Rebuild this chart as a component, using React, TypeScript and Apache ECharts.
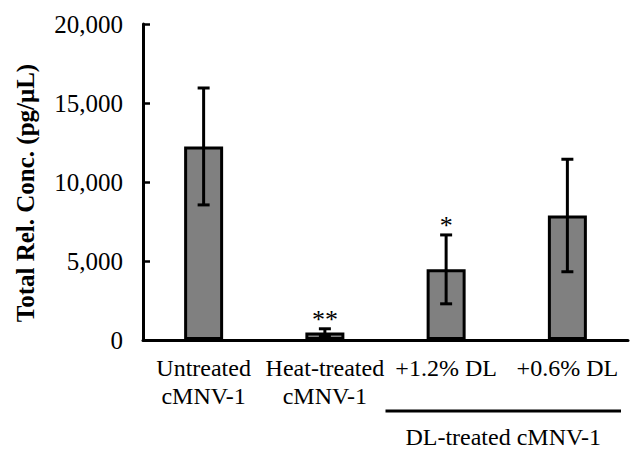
import React, { useEffect, useRef } from "react";
import * as echarts from "echarts";

const categories = ["Untreated\ncMNV-1", "Heat-treated\ncMNV-1", "+1.2% DL", "+0.6% DL"];
const means = [12250, 480, 4470, 7880];
const errors = [3700, 230, 2180, 3560];
const significance = ["", "**", "*", ""];
const yTicks = [0, 5000, 10000, 15000, 20000];
const groupLabel = "DL-treated cMNV-1";
const yAxisTitle = "Total Rel. Conc. (pg/μL)";

const FONT = "'Liberation Serif', 'Times New Roman', serif";

export default function App() {
  const ref = useRef<HTMLDivElement>(null);
  useEffect(() => {
    if (!ref.current) return;
    const chart = echarts.init(ref.current, null, { renderer: "svg" });
    const errData = means.map((m, i) => [i, m - errors[i], m + errors[i]]);
    chart.setOption({
      animation: false,
      backgroundColor: "#ffffff",
      textStyle: { fontFamily: FONT },
      grid: { left: 143, right: 2, top: 24, bottom: 109, containLabel: false },
      xAxis: {
        type: "category",
        data: categories,
        axisLine: { lineStyle: { color: "#000", width: 3 } },
        axisTick: { inside: true, length: 7, lineStyle: { color: "#000", width: 2.5 } },
        axisLabel: { color: "#000", fontSize: 24, fontFamily: FONT, lineHeight: 28, margin: 14, interval: 0 },
      },
      yAxis: {
        type: "value",
        min: yTicks[0],
        max: yTicks[yTicks.length - 1],
        interval: yTicks[1] - yTicks[0],
        splitLine: { show: false },
        axisLine: { show: true, lineStyle: { color: "#000", width: 3 } },
        axisTick: { show: true, inside: true, length: 7, lineStyle: { color: "#000", width: 2.5 } },
        axisLabel: {
          color: "#000",
          fontSize: 25,
          fontFamily: FONT,
          margin: 20,
          formatter: (v: number) => v.toLocaleString("en-US"),
        },
      },
      series: [
        {
          type: "bar",
          data: means,
          barWidth: 39,
          itemStyle: { color: "#808080", borderColor: "#000", borderWidth: 3 },
        },
        {
          type: "custom",
          data: errData,
          z: 10,
          renderItem: (params: any, api: any) => {
            const i = api.value(0);
            const lo = api.coord([i, api.value(1)]);
            const hi = api.coord([i, api.value(2)]);
            const x = lo[0];
            const w = 6;
            const st = { stroke: "#000", lineWidth: 3 };
            const children: any[] = [
              { type: "line", shape: { x1: x, y1: lo[1], x2: x, y2: hi[1] }, style: st },
              { type: "line", shape: { x1: x - w, y1: hi[1], x2: x + w, y2: hi[1] }, style: st },
              { type: "line", shape: { x1: x - w, y1: lo[1], x2: x + w, y2: lo[1] }, style: st },
            ];
            const sig = significance[params.dataIndex];
            if (sig) {
              children.push({
                type: "text",
                x: x,
                y: hi[1] + 4,
                style: {
                  text: sig,
                  fontSize: 26,
                  fontFamily: FONT,
                  fill: "#000",
                  align: "center",
                  verticalAlign: "bottom",
                },
              });
            }
            return { type: "group", children };
          },
        },
      ],
    });

    const p2 = chart.convertToPixel({ xAxisIndex: 0 }, 2) as number;
    const p3 = chart.convertToPixel({ xAxisIndex: 0 }, 3) as number;
    const half = (p3 - p2) / 2;
    const x1 = p2 - half;
    const x2 = p3 + half - 7;
    chart.setOption({
      graphic: [
        {
          type: "line",
          shape: { x1, y1: 411, x2, y2: 411 },
          style: { stroke: "#000", lineWidth: 3 },
        },
        {
          type: "text",
          x: (x1 + x2) / 2,
          y: 437,
          style: {
            text: groupLabel,
            fontSize: 24,
            fontFamily: FONT,
            fill: "#000",
            align: "center",
            verticalAlign: "middle",
          },
        },
        {
          type: "text",
          x: 25,
          y: 193,
          rotation: Math.PI / 2,
          style: {
            text: yAxisTitle,
            fontSize: 25,
            fontWeight: "bold",
            fontFamily: FONT,
            fill: "#000",
            align: "center",
            verticalAlign: "middle",
          },
        },
      ],
    });
    return () => chart.dispose();
  }, []);
  return <div ref={ref} style={{ width: 630, height: 449, position: "absolute", left: 0, top: 0 }} />;
}
